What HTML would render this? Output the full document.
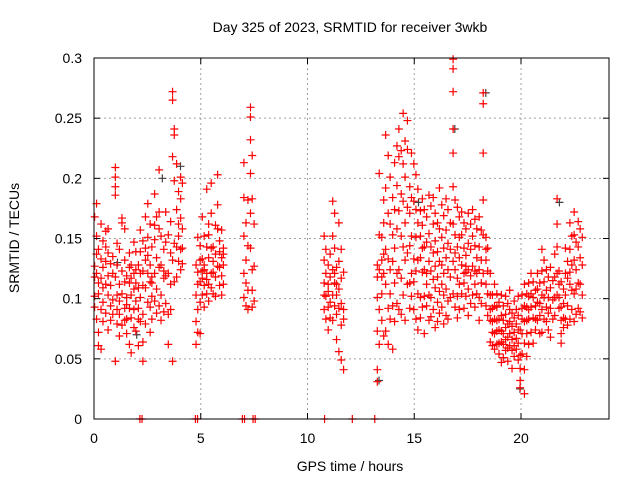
<!DOCTYPE html>
<html><head><meta charset="utf-8">
<style>
html,body{margin:0;padding:0;background:#fff;}
svg{display:block;font-family:"Liberation Sans",Arial,sans-serif;}
</style></head>
<body>
<svg id="chart" width="640" height="480" viewBox="0 0 640 480">
<rect width="640" height="480" fill="#fff"/>
<g id="grid"></g>
<g id="points"></g>
<rect x="94" y="58" width="515" height="361" fill="none" stroke="#000" stroke-width="1"/>
<g id="ticks"></g>
<text x="350" y="32" font-size="14" text-anchor="middle">Day 325 of 2023, SRMTID for receiver 3wkb</text>
<text x="350" y="471" font-size="14" text-anchor="middle">GPS time / hours</text>
<text transform="translate(19,238) rotate(-90)" font-size="14" text-anchor="middle">SRMTID / TECUs</text>
</svg>
<script>
const xTicks=[0,5,10,15,20];
const yTicks=[0,0.05,0.1,0.15,0.2,0.25,0.3];
const yTickLabels=["0","0.05","0.1","0.15","0.2","0.25","0.3"];
const hours=[0.03,0.12,0.21,0.33,0.42,0.55,0.66,0.78,0.88,1.0,1.08,1.19,1.31,1.44,1.53,1.66,1.74,1.87,1.96,2.08,2.17,2.29,2.41,2.52,2.63,2.71,2.84,2.93,3.05,3.14,3.27,3.36,3.48,3.59,3.68,3.76,3.87,3.96,4.06,4.14,4.78,4.86,4.97,5.07,5.16,5.28,5.37,5.49,5.58,5.69,5.79,5.88,5.98,6.06,7.02,7.12,7.21,7.33,7.41,7.5,10.78,10.86,10.97,11.06,11.18,11.27,11.36,11.47,11.58,11.69,13.27,13.36,13.48,13.57,13.66,13.78,13.87,13.99,14.08,14.19,14.28,14.39,14.48,14.57,14.68,14.79,14.87,14.98,15.08,15.17,15.29,15.38,15.47,15.58,15.69,15.78,15.89,15.98,16.09,16.18,16.29,16.38,16.49,16.58,16.69,16.82,16.91,17.02,17.11,17.22,17.33,17.42,17.53,17.64,17.73,17.84,17.93,18.04,18.14,18.23,18.36,18.44,18.56,18.66,18.76,18.87,18.97,19.08,19.17,19.28,19.38,19.47,19.58,19.68,19.78,19.87,19.96,20.05,20.16,20.27,20.36,20.47,20.57,20.68,20.77,20.88,20.98,21.08,21.19,21.28,21.38,21.49,21.58,21.69,21.78,21.88,21.99,22.08,22.18,22.29,22.38,22.49,22.58,22.68,22.77,22.87];
const tecu=[[0.093,0.127,0.168,0.102,0.118],[0.121,0.152,0.083,0.179,0.137],[0.104,0.072,0.141,0.113,0.061],[0.058,0.091,0.133,0.162,0.117],[0.126,0.148,0.097,0.081,0.109],[0.143,0.112,0.088,0.131,0.156],[0.158,0.119,0.103,0.074,0.138],[0.111,0.094,0.082,0.129],[0.135,0.099,0.121,0.087],[0.209,0.193,0.201,0.048,0.118,0.186],[0.103,0.079,0.128,0.146,0.091],[0.112,0.087,0.141,0.069,0.098],[0.167,0.123,0.104,0.078,0.163],[0.158,0.132,0.092,0.114,0.082],[0.083,0.071,0.119,0.101,0.095],[0.113,0.138,0.062,0.092,0.126],[0.128,0.103,0.084,0.055,0.117],[0.147,0.121,0.091,0.108,0.076],[0.124,0.098,0.073,0.139,0.113],[0.092,0.109,0.061,0.128,0.083],[0.139,0.157,0.101,0.081,0.121],[0.148,0.123,0.064,0.087,0.048,0.111],[0.168,0.142,0.109,0.079,0.132],[0.179,0.151,0.121,0.097,0.136],[0.162,0.128,0.093,0.072,0.114],[0.143,0.113,0.083,0.118,0.102],[0.187,0.149,0.121,0.098,0.161],[0.168,0.134,0.108,0.088],[0.207,0.158,0.126,0.094,0.172],[0.152,0.128,0.103,0.082],[0.141,0.117,0.089,0.123],[0.172,0.147,0.119,0.096],[0.153,0.121,0.087,0.062],[0.164,0.138,0.112,0.091],[0.272,0.265,0.218,0.132,0.048],[0.241,0.236,0.198,0.146,0.114],[0.212,0.174,0.143,0.118],[0.189,0.162,0.131,0.152],[0.201,0.183,0.141,0.124,0.167],[0.196,0.158,0.129,0.142],[0.128,0.103,0.081,0.062],[0.151,0.122,0.091,0.112,0.072],[0.144,0.132,0.114,0.071,0.097],[0.168,0.123,0.103,0.133,0.117],[0.152,0.124,0.111,0.093,0.128],[0.191,0.143,0.121,0.104,0.116],[0.162,0.134,0.112,0.153,0.098],[0.196,0.171,0.142,0.121,0.109],[0.143,0.122,0.104,0.131],[0.161,0.137,0.118,0.102],[0.203,0.178,0.158,0.127],[0.148,0.126,0.111,0.139],[0.157,0.134,0.119,0.103],[0.142,0.128,0.112,0.137],[0.213,0.184,0.152,0.121,0.101],[0.163,0.132,0.094,0.113],[0.182,0.144,0.107,0.091],[0.259,0.251,0.232,0.204,0.171,0.142],[0.219,0.183,0.124,0.093,0.107],[0.162,0.127,0.098],[0.152,0.113,0.091,0.103,0.132],[0.121,0.102,0.083,0.141],[0.112,0.093,0.074,0.128,0.106],[0.137,0.118,0.097,0.084],[0.181,0.152,0.124,0.103,0.082],[0.171,0.142,0.113,0.094,0.121],[0.126,0.103,0.087,0.066,0.112],[0.163,0.131,0.092,0.056,0.108],[0.141,0.117,0.096,0.078,0.049],[0.122,0.091,0.083,0.041],[0.128,0.101,0.073,0.041,0.118,0.031],[0.204,0.153,0.124,0.091,0.062],[0.151,0.132,0.104,0.082,0.118],[0.182,0.163,0.121,0.069,0.137],[0.236,0.192,0.141,0.112,0.073],[0.219,0.171,0.133,0.092,0.062],[0.201,0.162,0.124,0.104,0.083],[0.184,0.153,0.131,0.094,0.058],[0.213,0.174,0.142,0.113,0.081],[0.227,0.194,0.158,0.121,0.096],[0.241,0.218,0.173,0.124,0.091],[0.223,0.187,0.152,0.117,0.087],[0.254,0.212,0.181,0.143,0.103],[0.231,0.201,0.163,0.132,0.082],[0.248,0.224,0.176,0.138,0.112],[0.193,0.171,0.144,0.113,0.092],[0.221,0.184,0.152,0.121,0.102],[0.212,0.181,0.133,0.114,0.091],[0.203,0.174,0.151,0.123,0.083],[0.191,0.163,0.132,0.104,0.074],[0.173,0.152,0.134,0.101,0.084],[0.183,0.161,0.142,0.122,0.093],[0.174,0.143,0.124,0.102,0.071],[0.168,0.147,0.121,0.112,0.094],[0.186,0.154,0.131,0.103,0.082],[0.177,0.143,0.123,0.101,0.085],[0.184,0.162,0.138,0.116,0.091],[0.171,0.148,0.127,0.109,0.076],[0.163,0.139,0.118,0.097,0.081],[0.192,0.158,0.131,0.106,0.088],[0.178,0.151,0.128,0.112,0.093],[0.169,0.142,0.121,0.103,0.079],[0.183,0.157,0.134,0.108,0.086],[0.174,0.146,0.124,0.098,0.083],[0.163,0.141,0.118,0.101],[0.299,0.291,0.272,0.241,0.221,0.193,0.162,0.131,0.104],[0.182,0.153,0.124,0.093,0.138],[0.176,0.143,0.117,0.102,0.084],[0.168,0.134,0.112,0.091,0.151],[0.172,0.153,0.128,0.104],[0.163,0.142,0.121,0.113,0.092],[0.158,0.136,0.122,0.102,0.127],[0.171,0.146,0.124,0.108,0.086],[0.162,0.141,0.119,0.096],[0.174,0.152,0.127,0.103],[0.166,0.144,0.123,0.112,0.093],[0.158,0.134,0.121,0.104],[0.168,0.143,0.124,0.101,0.082],[0.157,0.132,0.113,0.096],[0.271,0.262,0.221,0.182,0.153,0.121],[0.151,0.132,0.112,0.094,0.141],[0.142,0.123,0.104,0.086],[0.121,0.103,0.091,0.082,0.064],[0.103,0.092,0.081,0.072,0.061],[0.112,0.094,0.083,0.071,0.058],[0.104,0.093,0.082,0.073,0.062],[0.097,0.083,0.074,0.063,0.054],[0.103,0.086,0.073,0.064,0.047],[0.094,0.082,0.071,0.062,0.051],[0.102,0.087,0.076,0.066,0.057],[0.096,0.079,0.068,0.059,0.048],[0.107,0.091,0.081,0.071,0.061],[0.088,0.077,0.066,0.057,0.042],[0.098,0.084,0.072,0.061,0.052],[0.091,0.079,0.067,0.058],[0.102,0.086,0.074,0.063,0.049],[0.074,0.053,0.042,0.032,0.026],[0.103,0.092,0.083,0.071,0.054],[0.112,0.094,0.081,0.063,0.041,0.021],[0.104,0.093,0.082,0.071,0.052],[0.113,0.102,0.091,0.083,0.062],[0.121,0.104,0.093,0.072],[0.114,0.101,0.084,0.063],[0.107,0.094,0.083,0.074],[0.121,0.108,0.097,0.082],[0.113,0.096,0.086,0.071],[0.141,0.123,0.103,0.091,0.072],[0.132,0.114,0.101,0.083],[0.124,0.107,0.093,0.081],[0.118,0.101,0.088,0.074],[0.126,0.109,0.092,0.068],[0.115,0.099,0.083],[0.137,0.118,0.101,0.086],[0.183,0.162,0.143,0.121,0.103],[0.123,0.112,0.101,0.092],[0.114,0.093,0.082,0.071,0.063],[0.108,0.096,0.084,0.076],[0.142,0.121,0.103,0.083],[0.131,0.117,0.094,0.078],[0.163,0.141,0.122,0.112,0.083],[0.152,0.128,0.107,0.091],[0.172,0.153,0.132,0.104,0.081],[0.147,0.124,0.108,0.087],[0.164,0.143,0.113,0.092],[0.158,0.134,0.112,0.089],[0.151,0.128,0.103,0.084]];
const zeroHours=[2.15,2.25,4.75,4.85,6.95,7.05,7.45,7.55,10.8,12.1,13.15];
const greyHours=[1.1,2.0,3.2,4.05,13.35,15.2,16.9,18.35,19.95,21.8];
const greyTecu=[0.13,0.07,0.2,0.21,0.032,0.18,0.241,0.271,0.025,0.18];
const NS="http://www.w3.org/2000/svg";
function xs(h){return 94+h*(427/20);}
function ys(v){return 419-v*(361/0.3);}
const grid=document.getElementById('grid'),ticks=document.getElementById('ticks'),pts=document.getElementById('points');
function mk(tag,attrs,parent){const e=document.createElementNS(NS,tag);for(const k in attrs)e.setAttribute(k,attrs[k]);parent.appendChild(e);return e;}
xTicks.forEach(t=>{const x=xs(t);
 if(t>0){const g=mk('line',{x1:x,x2:x,y1:58,y2:419,stroke:'#a0a0a0','stroke-dasharray':'2,3'},grid);
 
 }
 mk('line',{x1:x,x2:x,y1:419,y2:413,stroke:'#000'},ticks);mk('line',{x1:x,x2:x,y1:58,y2:64,stroke:'#000'},ticks);
 const l=mk('text',{x:x,y:443,'font-size':14,'text-anchor':'middle'},ticks);l.textContent=t;
 
 });
yTicks.forEach((t,i)=>{const y=ys(t);
 if(t>0&&t<0.3){const g=mk('line',{x1:94,x2:609,y1:y,y2:y,stroke:'#a0a0a0','stroke-dasharray':'2,3'},grid);
 
 }
 mk('line',{x1:94,x2:100,y1:y,y2:y,stroke:'#000'},ticks);mk('line',{x1:603,x2:609,y1:y,y2:y,stroke:'#000'},ticks);
 const l=mk('text',{x:82,y:y+5,'font-size':14,'text-anchor':'end'},ticks);l.textContent=yTickLabels[i];
 
 });
function plus(h,v,col){const x=xs(h),y=ys(v);
 const p=mk('path',{d:`M${x-4},${y}H${x+4}M${x},${y-4}V${y+4}`,stroke:col,'stroke-width':1.2,fill:'none'},pts);
 
 }
greyHours.forEach((h,i)=>plus(h,greyTecu[i],'#404040'));
hours.forEach((h,i)=>(tecu[i]||[]).forEach(v=>plus(h,v,'#ff0000')));
zeroHours.forEach(h=>plus(h,0,'#ff0000'));
</script>
</body></html>
